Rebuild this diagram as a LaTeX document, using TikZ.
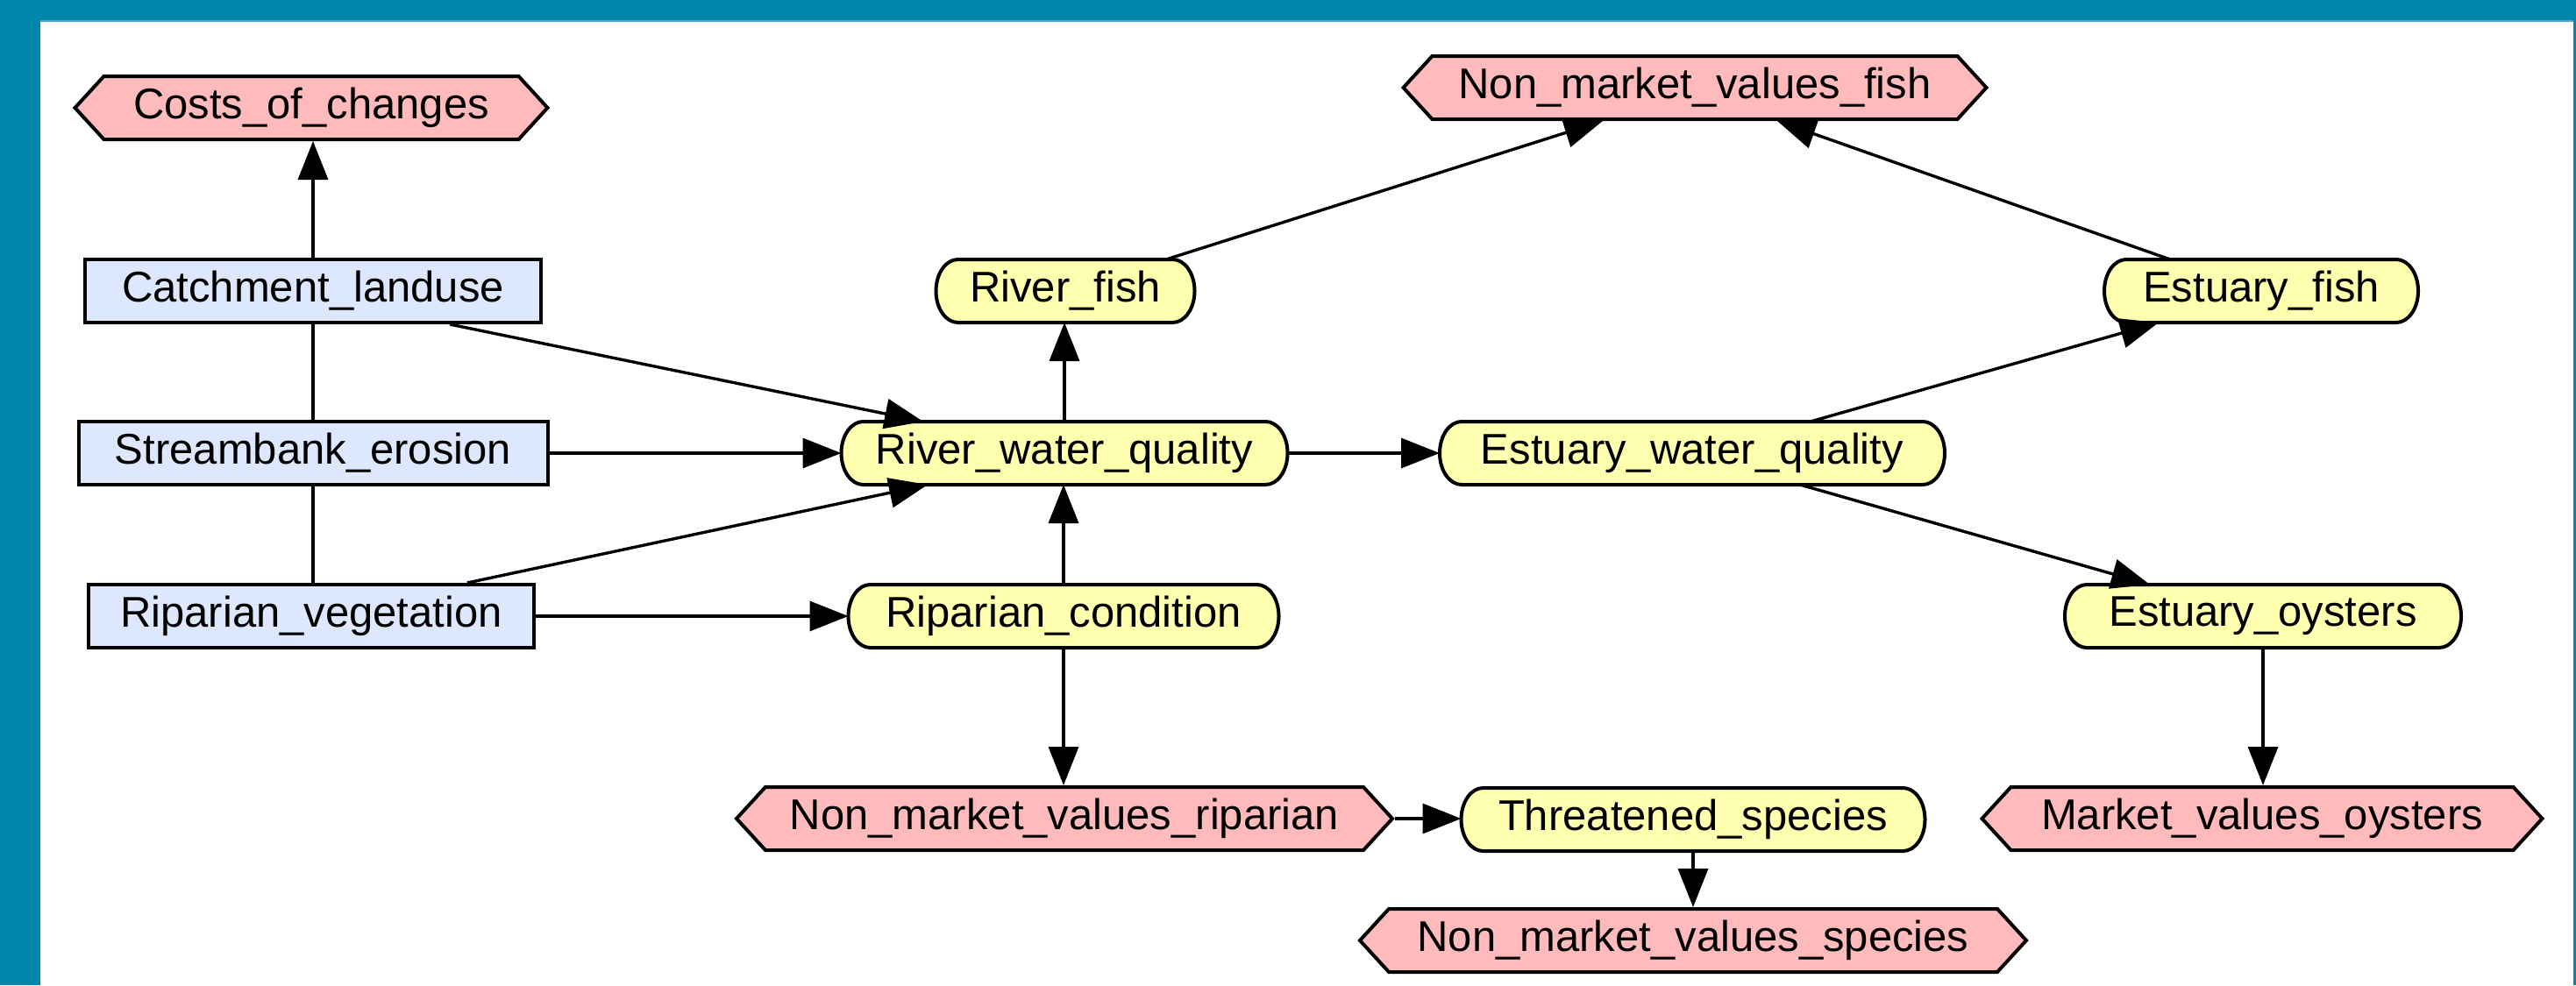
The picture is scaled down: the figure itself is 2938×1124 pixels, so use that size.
\documentclass[tikz,border=0pt]{standalone}
\usepackage{fontspec}
\setmainfont{Liberation Sans}
\usetikzlibrary{arrows.meta,shapes.symbols,calc,backgrounds}
\definecolor{frameteal}{RGB}{0,134,170}
\definecolor{frameedge}{RGB}{80,172,204}
\definecolor{decisionblue}{RGB}{221,231,253}
\definecolor{natureyellow}{RGB}{255,255,176}
\definecolor{utilitypink}{RGB}{255,187,187}
% outline of a chance node: straight top and bottom, elliptic ends
\newcommand\chanceoutline[1]{%
  \filldraw[fill=natureyellow, draw=black, line width=2pt]
    ($(#1.north west)+(25,0)$) -- ($(#1.north east)+(-25,0)$)
    arc[start angle=90, end angle=-90, x radius=12.5pt, y radius=18pt]
    -- ($(#1.south west)+(25,0)$)
    arc[start angle=270, end angle=90, x radius=12.5pt, y radius=18pt] -- cycle;}
\begin{document}
\begin{tikzpicture}[x=0.5pt,y=-0.5pt,
  every node/.style={font=\fontsize{24.5}{28}\selectfont, inner sep=0pt,
    line width=2pt, draw=black, minimum height=36pt},
  boxw/.style={minimum width=#1*0.5pt},
  decision/.style={rectangle, fill=decisionblue},
  chance/.style={rectangle, draw=none, outer sep=0pt},
  utility/.style={signal, signal to=west and east, signal pointer angle=95, fill=utilitypink},
  link/.style={line width=1.7pt, -{Triangle[length=22pt,width=17pt]}},
  plain/.style={line width=1.7pt}
]
\useasboundingbox (0,0) rectangle (2938,1124);

% decision nodes
\node[decision, boxw=520] (catch) at (357,332) {Catchment\_landuse};
\node[decision, boxw=535] (stream) at (357,517) {Streambank\_erosion};
\node[decision, boxw=508] (ripveg) at (355,703) {Riparian\_vegetation};

% chance nodes
\node[chance, boxw=509] (rwq) at (1214,517) {River\_water\_quality};
\node[chance, boxw=491] (ripcond) at (1213,703) {Riparian\_condition};
\node[chance, boxw=295] (rfish) at (1215,332) {River\_fish};
\node[chance, boxw=576] (ewq) at (1930,517) {Estuary\_water\_quality};
\node[chance, boxw=358] (efish) at (2579,332) {Estuary\_fish};
\node[chance, boxw=452] (eoyst) at (2581,703) {Estuary\_oysters};
\node[chance, boxw=529] (threat) at (1931,935) {Threatened\_species};

% utility nodes
\node[utility, boxw=539] (costs) at (355,123) {Costs\_of\_changes};
\node[utility, boxw=665] (nmvfish) at (1933,100) {Non\_market\_values\_fish};
\node[utility, boxw=748] (nmvrip) at (1214,934) {Non\_market\_values\_riparian};
\node[utility, boxw=639] (mvoyst) at (2580,934) {Market\_values\_oysters};
\node[utility, boxw=760] (nmvspec) at (1931,1073) {Non\_market\_values\_species};

\begin{pgfonlayer}{background}
  % window frame
  \fill[frameteal] (0,0) rectangle (2938,1124);
  \fill[white] (46,24) rectangle (2935,1124);
  \draw[frameedge, line width=1pt] (46,24) -- (2935,24);
  % chance node outlines
  \chanceoutline{rwq}
  \chanceoutline{ripcond}
  \chanceoutline{rfish}
  \chanceoutline{ewq}
  \chanceoutline{efish}
  \chanceoutline{eoyst}
  \chanceoutline{threat}
\end{pgfonlayer}

% links
\draw[link] (catch.north) -- (catch.north |- costs.south);
\draw[plain] (catch.south) -- (catch.south |- stream.north);
\draw[plain] (stream.south) -- (stream.south |- ripveg.north);
\draw[link] ($(catch.south)+(156,0)$) -- ($(rwq.north)+(-161,0)$);
\draw[link] (stream.east) -- (stream.east -| rwq.west);
\draw[link] ($(ripveg.north)+(178,0)$) -- ($(rwq.south)+(-156,0)$);
\draw[link] (ripveg.east) -- (ripveg.east -| ripcond.west);
\draw[link] (ripcond.north) -- (ripcond.north |- rwq.south);
\draw[link] (rwq.north) -- (rwq.north |- rfish.south);
\draw[link] ($(rfish.north)+(115,0)$) -- ($(nmvfish.south)+(-105,0)$);
\draw[link] (rwq.east) -- (rwq.east -| ewq.west);
\draw[link] ($(ewq.north)+(135,0)$) -- ($(efish.south)+(-117,0)$);
\draw[link] ($(efish.north)+(-104,0)$) -- ($(nmvfish.south)+(94,0)$);
\draw[link] ($(ewq.south)+(123,0)$) -- ($(eoyst.north)+(-129,0)$);
\draw[link] (eoyst.south) -- (eoyst.south |- mvoyst.north);
\draw[link] (ripcond.south) -- (ripcond.south |- nmvrip.north);
\draw[link] (nmvrip.east) -- (nmvrip.east -| threat.west);
\draw[link] (threat.south) -- (threat.south |- nmvspec.north);
\end{tikzpicture}
\end{document}
